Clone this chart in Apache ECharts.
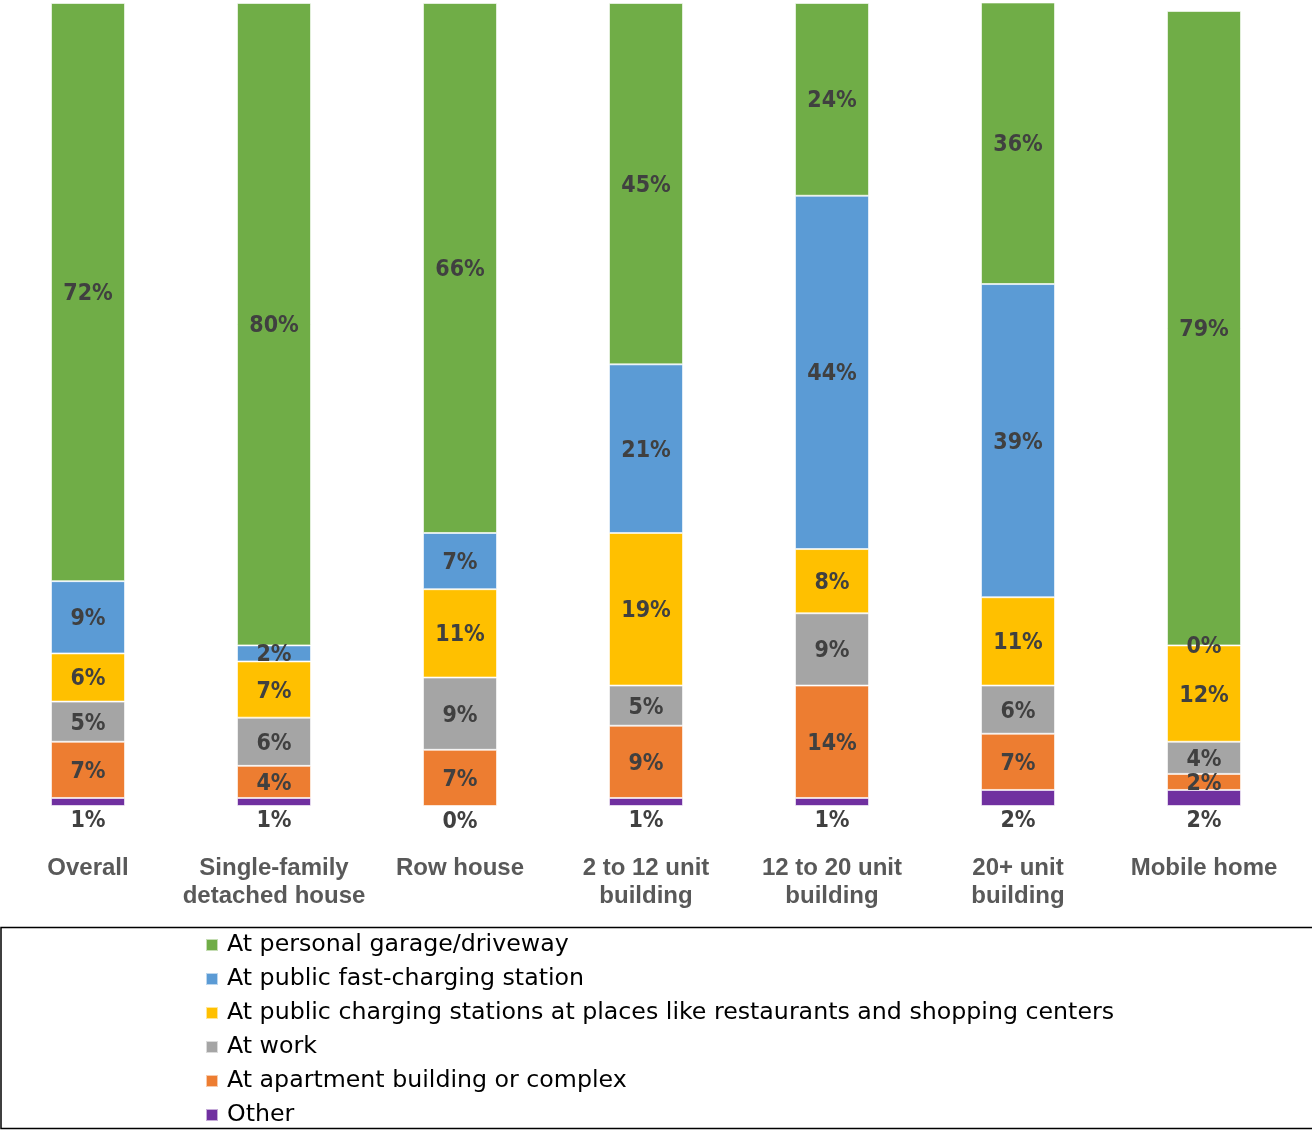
<!DOCTYPE html>
<html>
<head>
<meta charset="utf-8">
<title>Where EV owners charge, by housing type</title>
<script src="https://cdn.jsdelivr.net/npm/echarts@6/dist/echarts.min.js"></script>
<style>
  html, body { margin: 0; padding: 0; background: #fff; overflow: hidden; }
  /* the first category band starts slightly left of the page edge */
  #chart { width: 1317px; height: 1130px; margin-left: -5px; }
</style>
</head>
<body>
<div id="chart"></div>
<script>
// Housing types along the x axis
const categories = ['Overall', 'Single-family\ndetached house', 'Row house', '2 to 12 unit\nbuilding', '12 to 20 unit\nbuilding', '20+ unit\nbuilding', 'Mobile home'];

// Share of respondents (%) by charging location, stacked bottom to top
const other       = [1, 1, 0, 1, 1, 2, 2];
const apartment   = [7, 4, 7, 9, 14, 7, 2];
const work        = [5, 6, 9, 5, 9, 6, 4];
const publicShops = [6, 7, 11, 19, 8, 11, 12];
const fastCharge  = [9, 2, 7, 21, 44, 39, 0];
const garage      = [72, 80, 66, 45, 24, 36, 79];

const seriesNames = [
  'At personal garage/driveway',
  'At public fast-charging station',
  'At public charging stations at places like restaurants and shopping centers',
  'At work',
  'At apartment building or complex',
  'Other'
];

const labelFont = '"DejaVu Sans Condensed", "DejaVu Sans", sans-serif';

function barSeries(name, data, color, labelPos) {
  return {
    name: name,
    type: 'bar',
    stack: 'total',
    barWidth: 74,
    data: data,
    itemStyle: { color: color, borderColor: 'rgba(255,255,255,0.6)', borderWidth: 1 },
    label: {
      show: true,
      position: labelPos || 'inside',
      distance: 4,
      offset: labelPos ? [0, 0] : [0, 2],
      formatter: '{c}%',
      color: '#404040',
      fontFamily: labelFont,
      fontWeight: 'bold',
      fontSize: 23
    },
    emphasis: { disabled: true }
  };
}

const chart = echarts.init(document.getElementById('chart'), null, { renderer: 'canvas' });

chart.setOption({
  animation: false,
  backgroundColor: '#ffffff',
  grid: { left: 0, width: 1302, top: 3, height: 803, containLabel: false },
  xAxis: {
    type: 'category',
    data: categories,
    axisLine: { show: false },
    axisTick: { show: false },
    axisLabel: {
      interval: 0,
      margin: 48,
      color: '#595959',
      fontFamily: '"Liberation Sans", Arial, sans-serif',
      fontWeight: 'bold',
      fontSize: 24,
      lineHeight: 28
    }
  },
  yAxis: {
    type: 'value',
    min: 0,
    max: 100,
    show: false,
    splitLine: { show: false }
  },
  legend: {
    orient: 'vertical',
    left: 205,
    top: 928,
    height: 200,
    itemWidth: 12,
    itemHeight: 12,
    itemGap: 10,
    icon: 'rect',
    data: seriesNames,
    textStyle: {
      color: '#000',
      fontFamily: '"DejaVu Sans", sans-serif',
      fontSize: 23.7,
      lineHeight: 24,
      padding: [0, 0, 0, 4]
    }
  },
  graphic: [{
    type: 'rect',
    shape: { x: 6, y: 927.5, width: 1330, height: 201 },
    style: { fill: 'none', stroke: '#000', lineWidth: 1.5 },
    silent: true
  }],
  series: [
    barSeries(seriesNames[5], other, '#7030a0', 'bottom'),
    barSeries(seriesNames[4], apartment, '#ed7d31'),
    barSeries(seriesNames[3], work, '#a5a5a5'),
    barSeries(seriesNames[2], publicShops, '#ffc000'),
    barSeries(seriesNames[1], fastCharge, '#5b9bd5'),
    barSeries(seriesNames[0], garage, '#70ad47')
  ]
});
</script>
</body>
</html>
